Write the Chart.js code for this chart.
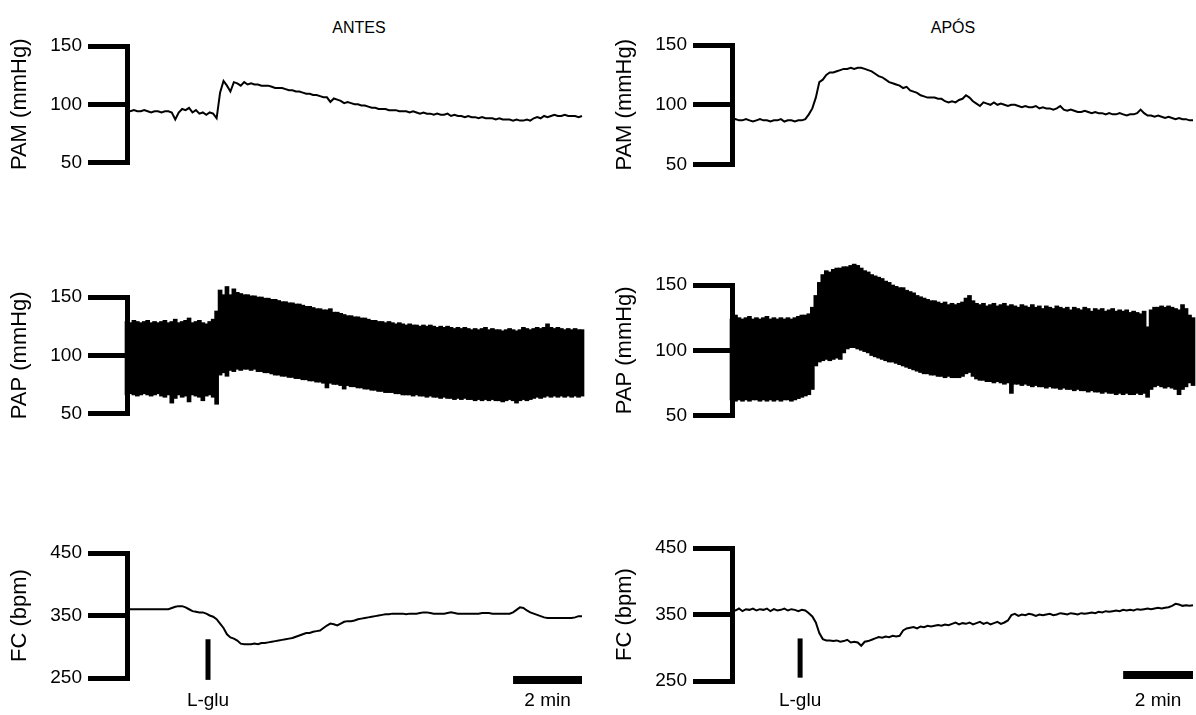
<!DOCTYPE html>
<html>
<head>
<meta charset="utf-8">
<script src="https://cdn.jsdelivr.net/npm/chart.js@4.4.1/dist/chart.umd.min.js"></script>
<style>
  html, body { margin: 0; padding: 0; background: #fff; overflow: hidden; }
  body { width: 1196px; height: 715px; position: relative; font-family: "Liberation Sans", Arial, sans-serif; }
  canvas { position: absolute; }
  .head { position: absolute; top: 19px; width: 200px; text-align: center; font-size: 16px; color: #000; }
</style>
</head>
<body>
<div class="head" style="left:259px">ANTES</div>
<div class="head" style="left:853px">APÓS</div>
<canvas id="pamAntes"></canvas>
<canvas id="papAntes"></canvas>
<canvas id="fcAntes"></canvas>
<canvas id="pamApos"></canvas>
<canvas id="papApos"></canvas>
<canvas id="fcApos"></canvas>
<script>
// one sample every 0.1 min, 13.2 min shown per trace
const T_STEP = 0.1;
const T_END = 13.2;
const SCALE_BAR_MIN = 2;

// PAM (mmHg)
const pamAntes = [
  95,94,95,94,94,95,94,93,94,94, 93,94,94,93,87,93,96,95,97,93,
  95,92,93,91,93,92,88,110,120,116, 111,119,118,116,119,117,118,117,117,116,
  116,116,115,114,114,114,113,112,112,111, 111,110,109,109,108,108,107,106,106,102,
  105,104,103,101,102,101,100,100,99,99, 98,97,97,96,96,96,95,95,95,94,
  94,94,93,94,93,92,93,92,92,91, 92,91,91,92,90,91,90,90,89,90,
  89,89,88,89,88,88,88,87,88,87, 87,87,86,87,86,86,87,86,88,89,
  88,90,89,90,91,90,90,91,90,90, 90,89,90
];
const pamApos = [
  87,88,87,87,88,87,86,87,88,87, 87,86,87,87,88,86,87,87,86,87,
  87,88,92,97,106,119,121,125,127,127, 128,129,130,130,131,130,131,131,130,129,
  128,126,124,123,121,119,118,117,116,114, 115,112,111,110,108,107,106,106,106,105,
  105,103,102,103,102,104,105,108,106,103, 101,99,102,101,100,102,100,101,100,99,
  100,100,99,98,99,98,98,99,97,98, 97,97,96,97,99,96,95,96,95,94,
  94,95,94,93,94,93,93,92,93,92, 92,93,92,91,92,92,93,96,93,91,
  91,90,91,90,89,90,89,88,89,88, 88,87,87
];

// PAP (mmHg): systolic / diastolic envelope
const papAntesHi = [
  129,128,130,129,128,129,130,128,129,128, 129,130,128,129,131,128,129,130,132,128,
  129,130,128,127,129,131,138,156,152,159, 152,157,154,153,152,152,151,151,150,150,
  149,149,148,148,147,146,146,145,145,144, 144,143,142,142,141,140,140,139,139,140,
  137,137,136,135,134,134,133,133,132,132, 131,130,130,129,129,128,129,128,127,128,
  127,126,127,126,126,125,126,125,126,125, 124,125,124,125,124,123,124,123,124,123,
  122,123,122,123,124,122,123,122,122,121, 122,123,122,121,122,124,123,122,123,124,
  123,124,127,124,123,124,123,122,123,122, 123,122,122
];
const papAntesLo = [
  66,67,66,65,66,67,66,65,66,67, 65,64,66,59,63,66,64,65,60,66,
  65,64,61,65,66,64,58,83,85,82, 87,86,88,87,88,88,87,88,86,86,
  85,85,84,83,83,82,82,81,81,80, 80,79,79,78,78,77,77,76,72,76,
  75,75,74,71,74,73,73,72,72,71, 71,70,70,69,69,68,68,68,67,67,
  66,66,66,65,66,65,65,64,65,64, 64,63,64,63,63,62,63,62,63,62,
  62,61,62,61,62,61,62,61,61,60, 61,62,61,59,61,62,61,62,63,64,
  63,64,65,64,65,64,65,64,65,64, 65,64,65
];
const papAposHi = [
  124,127,125,124,125,126,124,125,124,125, 126,124,125,124,125,124,125,124,125,126,
  127,127,128,133,142,152,158,161,160,162, 163,163,164,164,165,166,165,163,161,160,
  158,157,156,155,153,152,150,149,148,148, 146,145,144,142,141,140,139,138,138,137,
  136,137,135,136,135,136,137,140,142,138, 136,135,136,134,135,136,134,135,136,134,
  135,134,133,135,134,133,135,133,134,132, 134,133,132,134,133,132,133,131,133,132,
  131,133,132,130,132,131,132,130,131,132, 130,131,130,131,129,130,129,128,130,118,
  131,133,133,134,133,134,133,132,131,135, 132,127,125
];
const papAposLo = [
  62,61,62,61,62,61,62,62,61,62, 61,62,61,62,61,62,62,61,62,63,
  64,65,66,70,88,91,92,93,92,93, 94,93,98,101,102,102,101,100,99,98,
  96,95,94,93,92,91,91,90,89,88, 87,86,85,84,83,82,82,81,81,80,
  80,79,80,79,79,79,80,82,83,80, 78,77,77,76,76,75,76,75,74,75,
  67,74,74,73,74,73,72,73,72,72, 71,72,71,71,70,71,70,70,69,70,
  69,69,68,69,68,68,67,68,67,67, 66,67,66,67,66,66,67,66,67,64,
  70,72,73,72,71,72,71,70,66,70, 72,75,73
];

// FC (bpm)
const fcAntes = [
  360,360,360,360,360,360,360,360,360,360, 360,360,360,362,364,365,365,363,360,357,
  356,355,355,353,350,348,344,337,330,320, 315,313,310,305,304,304,304,305,304,306,
  306,307,308,309,310,311,312,313,314,316, 318,320,322,322,324,325,326,330,334,337,
  336,334,337,340,341,341,342,344,345,346, 347,348,349,350,351,352,352,353,353,353,
  353,352,353,353,353,354,355,355,354,353, 353,353,353,354,355,354,353,353,353,353,
  353,353,353,354,354,354,353,353,353,353, 353,353,355,359,363,362,358,355,353,351,
  349,347,346,346,346,346,346,346,346,346, 347,349,349
];
const fcApos = [
  358,356,359,355,358,357,359,356,358,357, 359,355,358,356,357,359,356,358,357,355,
  357,356,352,347,338,322,313,311,311,310, 311,309,310,312,308,309,308,303,309,310,
  312,314,316,315,317,316,318,317,318,326, 329,330,331,329,332,331,333,332,333,334,
  333,335,334,336,338,335,337,336,338,335, 337,339,336,338,335,337,339,336,338,341,
  349,351,348,350,349,351,350,348,350,349, 350,351,349,350,352,351,350,352,351,350,
  352,351,352,353,352,354,353,355,354,355, 356,355,357,356,357,356,358,357,358,359,
  358,359,360,359,360,361,363,366,365,363, 364,363,364
];

// L-glu injection time (min) and the bpm span of its marker
const lgluAntes = 2.35;
const lgluApos = 1.95;
const lgluAntesSpan = [247, 312];
const lgluAposSpan = [255, 314];
// level (bpm) of the 2 min scale bar
const scaleBarAntes = 247;
const scaleBarApos = 259;

const FONT = '"Liberation Sans", Arial, sans-serif';
const AXIS_W = 127;
const PAD_TOP = 30;

const series = vals => vals.map((v, i) => ({ x: i * T_STEP, y: v }));
const band = (lo, hi) => lo.map((v, i) => ({ x: i * T_STEP, y: [v, hi[i]] }));

const panels = [
  { id: 'pamAntes', left: 0, width: 598, padRight: 16, top: 46, bottom: 170, kind: 'line', data: series(pamAntes), y: [50, 150, 50], title: 'PAM (mmHg)' },
  { id: 'papAntes', left: 0, width: 598, padRight: 16, top: 297, bottom: 421, kind: 'band', data: band(papAntesLo, papAntesHi), y: [50, 150, 50], title: 'PAP (mmHg)' },
  { id: 'fcAntes', left: 0, width: 598, padRight: 16, top: 553, bottom: 678, kind: 'line', data: series(fcAntes), y: [250, 450, 100], title: 'FC (bpm)',
    lglu: lgluAntes, span: lgluAntesSpan, bar: scaleBarAntes, xHeight: 36, labelPad: 11 },
  { id: 'pamApos', left: 605, width: 591, padRight: 3, top: 45, bottom: 172, kind: 'line', data: series(pamApos), y: [50, 150, 50], title: 'PAM (mmHg)' },
  { id: 'papApos', left: 605, width: 591, padRight: 3, top: 285, bottom: 423, kind: 'band', data: band(papAposLo, papAposHi), y: [50, 150, 50], title: 'PAP (mmHg)' },
  { id: 'fcApos', left: 605, width: 591, padRight: 3, top: 548, bottom: 681, kind: 'line', data: series(fcApos), y: [250, 450, 100], title: 'FC (bpm)',
    lglu: lgluApos, span: lgluAposSpan, bar: scaleBarApos, xHeight: 33, labelPad: 8 }
];

function makePanel(p) {
  const cv = document.getElementById(p.id);
  const xH = p.lglu !== undefined ? p.xHeight : 0;
  const padBottom = xH ? 0 : 10;
  cv.width = p.width;
  cv.height = PAD_TOP + (p.bottom - p.top) + padBottom + xH;
  cv.style.left = p.left + 'px';
  cv.style.top = (p.top - PAD_TOP) + 'px';

  const datasets = [];
  if (p.kind === 'band') {
    datasets.push({ type: 'bar', data: p.data, backgroundColor: '#000', borderWidth: 0,
      barThickness: 4, grouped: false, clip: false });
  } else {
    datasets.push({ type: 'line', data: p.data, borderColor: '#000', borderWidth: 2,
      pointRadius: 0, tension: 0, clip: false });
  }
  if (xH) {
    datasets.push({ type: 'line', data: [{ x: p.lglu, y: p.span[0] }, { x: p.lglu, y: p.span[1] }],
      borderColor: '#000', borderWidth: 5, borderCapStyle: 'butt', pointRadius: 0, clip: false });
    datasets.push({ type: 'line', data: [{ x: T_END - SCALE_BAR_MIN, y: p.bar }, { x: T_END, y: p.bar }],
      borderColor: '#000', borderWidth: 8, borderCapStyle: 'butt', pointRadius: 0, clip: false });
  }

  const xScale = { type: 'linear', min: 0, max: T_END, offset: false, display: !!xH };
  if (xH) {
    Object.assign(xScale, {
      afterBuildTicks: s => { s.ticks = [{ value: p.lglu }, { value: T_END - SCALE_BAR_MIN / 2 }]; },
      afterFit: s => { s.height = xH; },
      grid: { display: false, drawTicks: false },
      border: { display: false },
      ticks: { autoSkip: false, maxRotation: 0, padding: p.labelPad, color: '#000',
        font: { family: FONT, size: 19 },
        callback: v => (v === p.lglu ? 'L-glu' : '2 min') }
    });
  }

  new Chart(cv, {
    type: p.kind === 'band' ? 'bar' : 'line',
    data: { datasets },
    options: {
      responsive: false,
      animation: false,
      events: [],
      layout: { padding: { top: PAD_TOP, bottom: padBottom, left: 0, right: p.padRight } },
      plugins: { legend: { display: false }, tooltip: { enabled: false } },
      scales: {
        x: xScale,
        y: {
          min: p.y[0], max: p.y[1],
          afterFit: s => { s.width = AXIS_W; },
          border: { display: true, width: 5, color: '#000' },
          grid: { display: true, drawOnChartArea: false, drawTicks: true, tickLength: 39, lineWidth: 5, color: '#000' },
          ticks: { stepSize: p.y[2], padding: 6, color: '#000', font: { family: FONT, size: 19 } },
          title: { display: true, text: p.title, color: '#000', padding: { top: 7, bottom: 0 },
            font: { family: FONT, size: 22 } }
        }
      }
    }
  });
}

panels.forEach(makePanel);
</script>
</body>
</html>
